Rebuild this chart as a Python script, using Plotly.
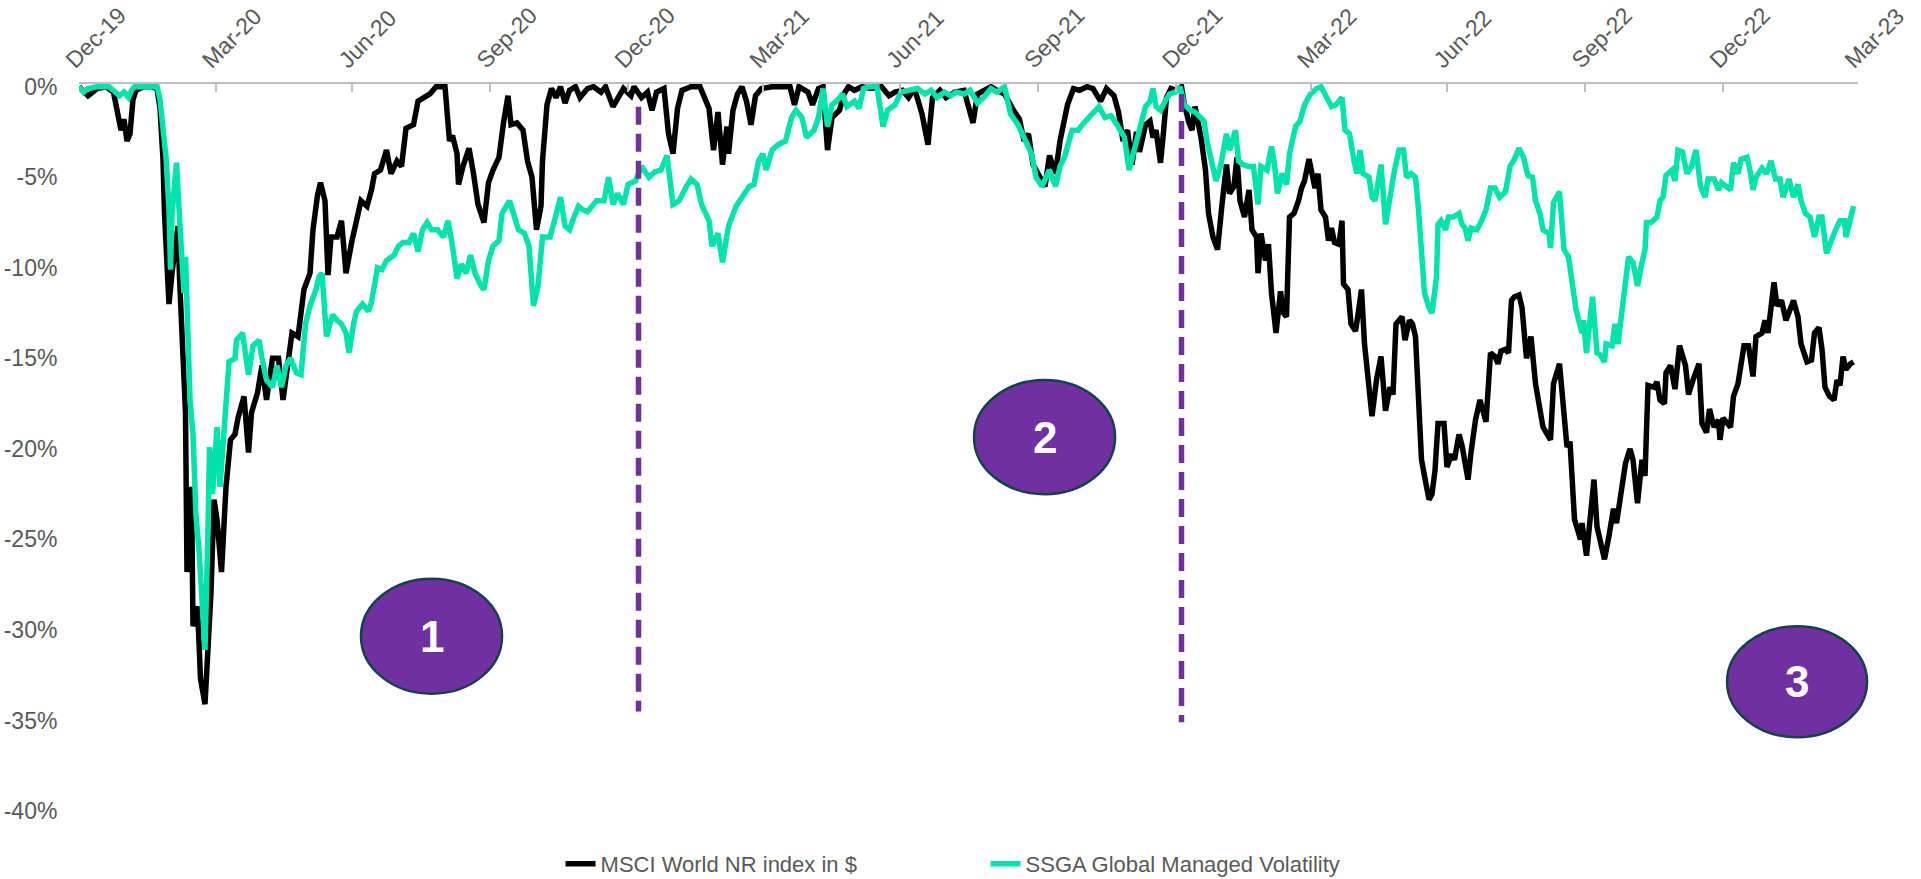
import plotly.graph_objects as go

# Drawdown from running peak (%), MSCI World NR index in USD
msci_dates = [
    "2019-12-31", "2020-01-06", "2020-01-12", "2020-01-18", "2020-01-23", "2020-01-26", "2020-01-28", "2020-01-30",
    "2020-02-01", "2020-02-03", "2020-02-05", "2020-02-07", "2020-02-12", "2020-02-17", "2020-02-21", "2020-02-23", "2020-02-25", "2020-02-26", "2020-02-29",
    "2020-03-02", "2020-03-04", "2020-03-06", "2020-03-07", "2020-03-09", "2020-03-11", "2020-03-12", "2020-03-15", "2020-03-16", "2020-03-19", "2020-03-21", "2020-03-24", "2020-03-28", "2020-03-30",
    "2020-04-01", "2020-04-04", "2020-04-07", "2020-04-10", "2020-04-13", "2020-04-15", "2020-04-19", "2020-04-22", "2020-04-24", "2020-04-28",
    "2020-05-01", "2020-05-04", "2020-05-08", "2020-05-12", "2020-05-15", "2020-05-19", "2020-05-21", "2020-05-25", "2020-05-29",
    "2020-06-02", "2020-06-04", "2020-06-07", "2020-06-09", "2020-06-12", "2020-06-14", "2020-06-16", "2020-06-20", "2020-06-23", "2020-06-26", "2020-06-30",
    "2020-07-03", "2020-07-06", "2020-07-10", "2020-07-13", "2020-07-15", "2020-07-19", "2020-07-23", "2020-07-26", "2020-07-30",
    "2020-08-02", "2020-08-05", "2020-08-10", "2020-08-13", "2020-08-18", "2020-08-21", "2020-08-25", "2020-08-31",
    "2020-09-03", "2020-09-05", "2020-09-08", "2020-09-09", "2020-09-12", "2020-09-16", "2020-09-19", "2020-09-22", "2020-09-26", "2020-09-29",
    "2020-10-02", "2020-10-06", "2020-10-09", "2020-10-12", "2020-10-14", "2020-10-18", "2020-10-22", "2020-10-25", "2020-10-28", "2020-10-31",
    "2020-11-03", "2020-11-04", "2020-11-07", "2020-11-10", "2020-11-13", "2020-11-16", "2020-11-19", "2020-11-22", "2020-11-26", "2020-11-29",
    "2020-12-04", "2020-12-08", "2020-12-13", "2020-12-16", "2020-12-21", "2020-12-24", "2020-12-28",
    "2021-01-02", "2021-01-04", "2021-01-09", "2021-01-13", "2021-01-16", "2021-01-19", "2021-01-24", "2021-01-27", "2021-01-30",
    "2021-02-02", "2021-02-05", "2021-02-11", "2021-02-17", "2021-02-20", "2021-02-23", "2021-02-26",
    "2021-03-01", "2021-03-04", "2021-03-07", "2021-03-08", "2021-03-11", "2021-03-14", "2021-03-17", "2021-03-20", "2021-03-23", "2021-03-26", "2021-03-30",
    "2021-04-06", "2021-04-18", "2021-04-21", "2021-04-24", "2021-04-30",
    "2021-05-03", "2021-05-07", "2021-05-10", "2021-05-13", "2021-05-16", "2021-05-21", "2021-05-24", "2021-05-27", "2021-05-31",
    "2021-06-05", "2021-06-11", "2021-06-18", "2021-06-23", "2021-06-27",
    "2021-07-02", "2021-07-06", "2021-07-10", "2021-07-15", "2021-07-19", "2021-07-22", "2021-07-27", "2021-07-31",
    "2021-08-06", "2021-08-12", "2021-08-18", "2021-08-21", "2021-08-25", "2021-08-30",
    "2021-09-03", "2021-09-08", "2021-09-14", "2021-09-18", "2021-09-21", "2021-09-24", "2021-09-27",
    "2021-10-02", "2021-10-05", "2021-10-08", "2021-10-12", "2021-10-15", "2021-10-20", "2021-10-24", "2021-10-28",
    "2021-11-02", "2021-11-06", "2021-11-11", "2021-11-15", "2021-11-20", "2021-11-23", "2021-11-26", "2021-11-29",
    "2021-12-02", "2021-12-05", "2021-12-07", "2021-12-11", "2021-12-14", "2021-12-16", "2021-12-18", "2021-12-21", "2021-12-23", "2021-12-25", "2021-12-28", "2021-12-31",
    "2022-01-04", "2022-01-06", "2022-01-09", "2022-01-11", "2022-01-13", "2022-01-15", "2022-01-17", "2022-01-20", "2022-01-22", "2022-01-25", "2022-01-28", "2022-01-31",
    "2022-02-03", "2022-02-05", "2022-02-08", "2022-02-10", "2022-02-12", "2022-02-15", "2022-02-18", "2022-02-20", "2022-02-23", "2022-02-24", "2022-02-26",
    "2022-03-01", "2022-03-03", "2022-03-05", "2022-03-08", "2022-03-11", "2022-03-13", "2022-03-15", "2022-03-17", "2022-03-20", "2022-03-23", "2022-03-25", "2022-03-27", "2022-03-30",
    "2022-04-01", "2022-04-03", "2022-04-05", "2022-04-07", "2022-04-10", "2022-04-12", "2022-04-14", "2022-04-16", "2022-04-19", "2022-04-21", "2022-04-22", "2022-04-25", "2022-04-27", "2022-04-30",
    "2022-05-02", "2022-05-04", "2022-05-06", "2022-05-09", "2022-05-11", "2022-05-14", "2022-05-17", "2022-05-20", "2022-05-23", "2022-05-25", "2022-05-27", "2022-05-31",
    "2022-06-02", "2022-06-05", "2022-06-07", "2022-06-09", "2022-06-11", "2022-06-13", "2022-06-15", "2022-06-18", "2022-06-20", "2022-06-22", "2022-06-24", "2022-06-28", "2022-06-30",
    "2022-07-03", "2022-07-05", "2022-07-08", "2022-07-10", "2022-07-12", "2022-07-14", "2022-07-16", "2022-07-19", "2022-07-22", "2022-07-26", "2022-07-29",
    "2022-08-01", "2022-08-03", "2022-08-05", "2022-08-08", "2022-08-10", "2022-08-12", "2022-08-14", "2022-08-17", "2022-08-19", "2022-08-22", "2022-08-25", "2022-08-28", "2022-08-31",
    "2022-09-02", "2022-09-07", "2022-09-09", "2022-09-13", "2022-09-16", "2022-09-18", "2022-09-20", "2022-09-23", "2022-09-27", "2022-09-28",
    "2022-10-01", "2022-10-03", "2022-10-06", "2022-10-08", "2022-10-11", "2022-10-13", "2022-10-16", "2022-10-19", "2022-10-21", "2022-10-24", "2022-10-27", "2022-10-30",
    "2022-11-01", "2022-11-04", "2022-11-07", "2022-11-09", "2022-11-11", "2022-11-15", "2022-11-17", "2022-11-19", "2022-11-22", "2022-11-23", "2022-11-26", "2022-11-29",
    "2022-12-02", "2022-12-06", "2022-12-08", "2022-12-11", "2022-12-15", "2022-12-17", "2022-12-20", "2022-12-22", "2022-12-25", "2022-12-28", "2022-12-29", "2022-12-31",
    "2023-01-05", "2023-01-07", "2023-01-10", "2023-01-14", "2023-01-17", "2023-01-20", "2023-01-22", "2023-01-26", "2023-01-28", "2023-01-30",
    "2023-02-03", "2023-02-05", "2023-02-08", "2023-02-11", "2023-02-16", "2023-02-19", "2023-02-21", "2023-02-25", "2023-02-28",
    "2023-03-02", "2023-03-05", "2023-03-07", "2023-03-09", "2023-03-12", "2023-03-15", "2023-03-17", "2023-03-19", "2023-03-21", "2023-03-23", "2023-03-26", "2023-03-28",
]
msci_dd = [
    0.0, -0.5, -0.1, 0.0, -0.3, -1.6, -2.4, -1.8,
    -3.0, -2.6, -0.7, -0.2, 0.0, 0.0, -0.1, -1.2, -4.0, -7.0, -12.0,
    -10.3, -9.2, -7.7, -10.5, -13.8, -18.0, -26.8, -22.1, -29.8, -28.7, -32.7, -34.1, -27.9, -22.8,
    -23.9, -26.8, -22.1, -19.5, -19.2, -18.3, -17.1, -20.2, -18.0, -16.9,
    -15.4, -17.3, -15.0, -15.0, -17.3, -14.7, -13.6, -13.8, -11.2,
    -10.3, -7.9, -6.0, -5.3, -6.3, -10.4, -8.3, -8.3, -7.4, -10.3, -8.5,
    -7.4, -6.3, -6.6, -5.7, -4.8, -4.6, -3.5, -4.8, -4.1,
    -4.4, -2.3, -2.1, -0.8, -0.6, -0.4, 0.0, 0.0,
    -3.0, -2.7, -3.7, -5.4, -4.4, -3.4, -4.8, -6.5, -7.5, -5.3,
    -4.6, -3.9, -2.0, -0.5, -2.1, -2.0, -2.4, -4.1, -5.0, -7.9,
    -6.6, -4.1, -1.0, -0.1, -0.6, 0.0, -0.9, -0.2, 0.0, -0.6,
    -0.1, 0.0, -0.3, 0.0, -1.1, -0.6, -0.1,
    -0.5, 0.0, -0.6, -0.3, -1.3, -0.3, -0.1, -2.6, -3.7,
    -1.2, -0.2, 0.0, 0.0, -0.7, -1.2, -3.5,
    -1.4, -4.3, -2.2, -3.7, -1.3, -0.4, 0.0, -0.8, -2.1, -0.5, -0.1,
    0.0, 0.0, -1.0, 0.0, -0.3,
    -1.0, -0.1, 0.0, -3.5, -1.7, -1.3, -0.4, 0.0, -0.2,
    0.0, -0.1, 0.0, -0.5, -0.3,
    -0.2, -0.6, -0.1, -1.5, -3.2, -0.6, -0.2, -0.6,
    -0.3, -0.2, -2.0, -0.4, -0.2, 0.0,
    -0.2, -0.4, -1.3, -1.8, -3.0, -2.6, -4.3,
    -5.0, -5.5, -3.8, -4.8, -3.0, -1.0, -0.1, -0.2,
    0.0, -0.1, -0.8, -0.1, -0.5, -1.4, -3.0, -2.4,
    -4.3, -2.5, -3.6, -2.1, -1.9, -2.8, -2.4, -4.2, -2.5, -0.6, -0.1, -0.2,
    0.0, -1.0, -2.0, -2.4, -1.1, -2.0, -2.8, -4.6, -7.0, -8.3, -9.0, -6.5,
    -4.3, -5.9, -5.5, -3.9, -6.3, -7.2, -5.7, -7.9, -8.3, -10.3, -8.1,
    -9.6, -8.7, -11.4, -13.6, -11.3, -12.5, -12.7, -7.2, -7.0, -6.3, -5.6, -5.2, -4.0,
    -5.0, -5.6, -4.8, -6.8, -7.2, -8.5, -7.8, -8.6, -8.7, -7.4, -10.9, -11.2, -13.1, -13.5,
    -12.4, -11.2, -14.2, -17.1, -18.2, -16.2, -14.9, -17.9, -16.6, -17.0, -13.1, -12.7,
    -14.0, -12.9, -13.1, -13.8, -18.1, -20.6, -21.5, -22.8, -22.5, -21.2, -18.6, -18.6, -21.0,
    -20.3, -20.6, -19.2, -19.8, -20.6, -21.7, -20.2, -18.4, -17.3, -18.5, -14.7,
    -14.9, -15.3, -14.6, -14.5, -14.7, -11.8, -11.6, -11.5, -12.2, -15.0, -13.8, -16.4, -18.0,
    -18.8, -19.5, -16.4, -15.3, -18.4, -19.9, -19.6, -23.9, -25.0, -24.1,
    -25.9, -24.1, -21.7, -24.3, -25.4, -26.1, -24.8, -23.3, -24.1, -22.2, -20.8, -20.0,
    -20.6, -23.0, -20.6, -21.5, -16.5, -16.6, -16.3, -17.3, -17.5, -15.8, -15.4, -16.7,
    -14.3, -15.4, -17.0, -16.2, -15.3, -18.6, -19.1, -17.8, -18.8, -18.4, -19.5, -18.3,
    -18.8, -17.1, -16.4, -14.3, -14.3, -16.0, -13.8, -13.6, -12.9, -13.6,
    -10.8, -12.1, -11.8, -12.9, -11.8, -12.7, -14.2, -15.2, -15.1,
    -13.6, -13.3, -14.5, -16.6, -17.1, -17.3, -16.2, -16.5, -14.9, -15.6, -15.3, -15.2,
]

# Drawdown from running peak (%), SSGA Global Managed Volatility
ssga_dates = [
    "2019-12-31", "2020-01-03", "2020-01-06", "2020-01-12", "2020-01-20", "2020-01-27", "2020-01-30",
    "2020-02-02", "2020-02-04", "2020-02-06", "2020-02-15", "2020-02-21", "2020-02-23", "2020-02-25", "2020-02-27", "2020-02-29",
    "2020-03-01", "2020-03-02", "2020-03-05", "2020-03-07", "2020-03-10", "2020-03-11", "2020-03-13", "2020-03-14", "2020-03-16", "2020-03-18", "2020-03-20", "2020-03-22", "2020-03-24", "2020-03-26", "2020-03-27", "2020-03-29",
    "2020-04-01", "2020-04-03", "2020-04-06", "2020-04-09", "2020-04-13", "2020-04-14", "2020-04-18", "2020-04-20", "2020-04-22", "2020-04-25", "2020-04-29",
    "2020-05-01", "2020-05-04", "2020-05-08", "2020-05-11", "2020-05-14", "2020-05-17", "2020-05-20", "2020-05-24", "2020-05-27", "2020-05-30",
    "2020-06-02", "2020-06-06", "2020-06-08", "2020-06-10", "2020-06-13", "2020-06-17", "2020-06-20", "2020-06-23", "2020-06-26", "2020-06-28",
    "2020-07-01", "2020-07-03", "2020-07-07", "2020-07-11", "2020-07-13", "2020-07-17", "2020-07-20", "2020-07-23", "2020-07-28", "2020-07-31",
    "2020-08-03", "2020-08-07", "2020-08-10", "2020-08-13", "2020-08-16", "2020-08-19", "2020-08-22", "2020-08-26", "2020-08-30",
    "2020-09-02", "2020-09-05", "2020-09-08", "2020-09-11", "2020-09-14", "2020-09-17", "2020-09-20", "2020-09-24", "2020-09-26", "2020-09-29",
    "2020-10-02", "2020-10-06", "2020-10-08", "2020-10-13", "2020-10-16", "2020-10-19", "2020-10-23", "2020-10-26", "2020-10-29",
    "2020-11-01", "2020-11-04", "2020-11-09", "2020-11-12", "2020-11-16", "2020-11-19", "2020-11-22", "2020-11-25", "2020-11-28",
    "2020-12-01", "2020-12-04", "2020-12-07", "2020-12-10", "2020-12-15", "2020-12-18", "2020-12-21", "2020-12-24", "2020-12-28", "2020-12-31",
    "2021-01-05", "2021-01-09", "2021-01-14", "2021-01-18", "2021-01-22", "2021-01-26", "2021-01-30",
    "2021-02-03", "2021-02-08", "2021-02-11", "2021-02-15", "2021-02-18", "2021-02-23", "2021-02-25",
    "2021-03-01", "2021-03-04", "2021-03-08", "2021-03-13", "2021-03-17", "2021-03-22", "2021-03-25", "2021-03-28", "2021-03-31",
    "2021-04-02", "2021-04-06", "2021-04-10", "2021-04-15", "2021-04-19", "2021-04-22", "2021-04-26", "2021-04-29",
    "2021-05-04", "2021-05-07", "2021-05-10", "2021-05-13", "2021-05-16", "2021-05-19", "2021-05-23", "2021-05-26", "2021-05-31",
    "2021-06-03", "2021-06-06", "2021-06-10", "2021-06-15", "2021-06-19", "2021-06-22", "2021-06-27",
    "2021-07-01", "2021-07-06", "2021-07-12", "2021-07-17", "2021-07-21", "2021-07-25", "2021-07-30",
    "2021-08-03", "2021-08-07", "2021-08-12", "2021-08-16", "2021-08-21", "2021-08-25", "2021-08-30",
    "2021-09-03", "2021-09-08", "2021-09-12", "2021-09-17", "2021-09-21", "2021-09-26", "2021-09-29",
    "2021-10-03", "2021-10-08", "2021-10-12", "2021-10-15", "2021-10-18", "2021-10-23", "2021-10-27",
    "2021-11-01", "2021-11-05", "2021-11-10", "2021-11-14", "2021-11-18", "2021-11-22", "2021-11-27", "2021-11-30",
    "2021-12-03", "2021-12-07", "2021-12-11", "2021-12-14", "2021-12-16", "2021-12-18", "2021-12-21", "2021-12-24", "2021-12-27", "2021-12-31",
    "2022-01-03", "2022-01-06", "2022-01-10", "2022-01-13", "2022-01-16", "2022-01-19", "2022-01-21", "2022-01-24", "2022-01-27", "2022-01-30",
    "2022-02-01", "2022-02-03", "2022-02-05", "2022-02-09", "2022-02-11", "2022-02-14", "2022-02-18", "2022-02-21", "2022-02-24", "2022-02-26",
    "2022-03-02", "2022-03-05", "2022-03-07", "2022-03-09", "2022-03-12", "2022-03-15", "2022-03-17", "2022-03-21", "2022-03-24", "2022-03-27", "2022-03-31",
    "2022-04-04", "2022-04-07", "2022-04-11", "2022-04-14", "2022-04-17", "2022-04-21", "2022-04-23", "2022-04-26", "2022-04-29",
    "2022-05-01", "2022-05-03", "2022-05-05", "2022-05-09", "2022-05-11", "2022-05-13", "2022-05-15", "2022-05-17", "2022-05-20", "2022-05-22", "2022-05-24", "2022-05-26", "2022-05-29",
    "2022-06-01", "2022-06-03", "2022-06-06", "2022-06-09", "2022-06-11", "2022-06-13", "2022-06-15", "2022-06-18", "2022-06-20", "2022-06-23", "2022-06-24", "2022-06-26", "2022-06-29",
    "2022-07-01", "2022-07-04", "2022-07-08", "2022-07-10", "2022-07-12", "2022-07-14", "2022-07-16", "2022-07-20", "2022-07-23", "2022-07-26", "2022-07-29",
    "2022-08-01", "2022-08-04", "2022-08-08", "2022-08-11", "2022-08-14", "2022-08-17", "2022-08-20", "2022-08-23", "2022-08-26", "2022-08-28", "2022-08-31",
    "2022-09-02", "2022-09-06", "2022-09-07", "2022-09-09", "2022-09-13", "2022-09-16", "2022-09-19", "2022-09-21", "2022-09-24", "2022-09-28", "2022-09-29",
    "2022-10-01", "2022-10-03", "2022-10-05", "2022-10-08", "2022-10-10", "2022-10-13", "2022-10-14", "2022-10-18", "2022-10-20", "2022-10-22", "2022-10-24", "2022-10-27", "2022-10-29",
    "2022-11-01", "2022-11-04", "2022-11-07", "2022-11-09", "2022-11-10", "2022-11-13", "2022-11-17", "2022-11-19", "2022-11-21", "2022-11-23", "2022-11-27", "2022-11-29",
    "2022-12-01", "2022-12-04", "2022-12-07", "2022-12-10", "2022-12-13", "2022-12-16", "2022-12-19", "2022-12-21", "2022-12-25", "2022-12-28", "2022-12-30",
    "2023-01-02", "2023-01-05", "2023-01-07", "2023-01-10", "2023-01-12", "2023-01-16", "2023-01-18", "2023-01-20", "2023-01-22", "2023-01-26", "2023-01-29",
    "2023-02-01", "2023-02-04", "2023-02-07", "2023-02-09", "2023-02-13", "2023-02-16", "2023-02-19", "2023-02-21", "2023-02-24", "2023-02-27",
    "2023-03-02", "2023-03-05", "2023-03-07", "2023-03-10", "2023-03-13", "2023-03-16", "2023-03-19", "2023-03-22", "2023-03-23", "2023-03-26", "2023-03-28",
]
ssga_dd = [
    0.0, -0.3, -0.1, 0.0, 0.0, -0.5, -0.3,
    -0.6, -0.2, 0.0, 0.0, 0.0, -0.7, -2.0, -3.9, -6.8,
    -10.1, -7.0, -4.2, -7.2, -11.4, -9.4, -15.5, -17.3, -19.2, -23.7, -25.6, -29.1, -31.1, -24.4, -19.9, -22.5,
    -18.8, -22.1, -18.3, -15.2, -15.0, -14.0, -13.6, -14.7, -15.9, -14.3, -14.0,
    -15.0, -16.2, -16.6, -15.4, -16.6, -15.4, -15.0, -15.8, -15.9, -13.1,
    -12.1, -11.2, -10.5, -10.3, -13.8, -12.6, -12.9, -13.1, -13.6, -14.7,
    -13.1, -12.4, -12.0, -12.4, -11.9, -10.0, -10.1, -9.6, -9.3, -8.8,
    -8.6, -8.6, -8.1, -9.1, -7.9, -7.5, -7.9, -7.9, -8.3,
    -7.4, -8.8, -10.6, -9.8, -10.3, -9.3, -10.3, -11.0, -11.2, -9.6,
    -8.8, -8.5, -7.0, -6.3, -7.2, -7.9, -8.1, -8.8, -12.1,
    -11.0, -8.3, -8.3, -7.4, -6.1, -7.7, -7.9, -7.2, -6.6,
    -6.8, -6.9, -6.6, -6.3, -6.3, -5.0, -6.5, -5.9, -6.5, -5.4,
    -5.2, -4.4, -5.0, -4.7, -4.6, -3.8, -6.5,
    -6.3, -5.5, -5.1, -5.4, -6.5, -7.4, -8.8,
    -8.1, -9.7, -7.7, -6.6, -6.1, -5.5, -5.4, -4.1, -3.7,
    -4.6, -3.5, -3.2, -3.0, -1.7, -1.3, -1.7, -2.8,
    -2.4, -1.7, -0.1, -2.2, -1.0, -0.8, -0.4, -1.1, -0.8,
    -1.2, -0.1, 0.0, 0.0, -2.2, -1.3, -1.0,
    -0.3, -0.2, -0.1, -0.4, -0.2, -0.6, -0.3,
    -0.5, -0.3, -0.4, -0.2, -0.9, -0.6, -0.1,
    -0.3, 0.0, -1.5, -2.1, -2.8, -3.7, -5.0,
    -5.5, -4.6, -5.5, -4.4, -3.9, -2.4, -2.4,
    -1.9, -1.5, -1.1, -1.7, -1.6, -2.1, -2.8, -4.6,
    -3.7, -2.4, -1.1, -0.8, -0.1, -1.1, -1.3, -0.8, -0.4, -0.3,
    0.0, -1.0, -1.3, -1.4, -1.7, -1.9, -3.0, -4.1, -5.2, -4.4,
    -3.5, -2.6, -3.5, -2.4, -4.1, -4.3, -4.4, -4.4, -6.5, -4.4,
    -4.6, -3.3, -4.3, -5.9, -4.8, -5.4, -3.7, -2.2, -1.9, -1.0, -0.4,
    -0.1, 0.0, -0.6, -1.1, -1.0, -0.6, -2.4, -2.6, -4.1,
    -4.8, -3.5, -4.8, -5.0, -6.1, -6.3, -5.4, -4.3, -7.6, -6.3, -5.6, -4.6, -3.5,
    -3.5, -5.0, -4.8, -5.0, -6.8, -9.2, -11.4, -12.2, -12.5, -10.5, -7.6, -7.4, -7.9,
    -7.2, -7.2, -7.0, -7.6, -7.8, -8.5, -7.8, -7.9, -7.4, -6.8, -5.6,
    -5.6, -6.1, -5.8, -4.4, -4.0, -3.4, -3.9, -4.9, -5.0, -6.3, -7.0,
    -7.9, -8.1, -8.9, -6.4, -5.8, -9.0, -9.4, -10.7, -12.3, -13.6, -12.9,
    -14.7, -13.2, -11.6, -14.7, -14.8, -15.2, -14.2, -14.3, -13.1, -14.2, -12.9, -10.8, -9.4,
    -9.7, -11.0, -9.7, -9.0, -7.5, -7.5, -7.2, -6.3, -6.1, -4.9, -4.6, -5.2,
    -3.5, -3.6, -4.8, -4.4, -3.5, -5.5, -6.1, -5.1, -5.1, -5.7, -5.3,
    -5.5, -5.7, -4.2, -4.8, -4.0, -3.9, -4.6, -5.7, -5.0, -4.5, -4.8,
    -4.1, -5.1, -5.1, -6.1, -5.1, -6.1, -5.4, -6.3, -7.0, -7.2,
    -8.3, -7.2, -7.2, -9.2, -8.5, -7.9, -7.4, -7.4, -8.3, -7.2, -6.6,
]

# Axis ticks
x_tick_dates = ["2019-12-31", "2020-03-31", "2020-06-30", "2020-09-30", "2020-12-31", "2021-03-31", "2021-06-30",
                "2021-09-30", "2021-12-31", "2022-03-31", "2022-06-30", "2022-09-30", "2022-12-31", "2023-03-31"]
x_tick_labels = ["Dec-19", "Mar-20", "Jun-20", "Sep-20", "Dec-20", "Mar-21", "Jun-21",
                 "Sep-21", "Dec-21", "Mar-22", "Jun-22", "Sep-22", "Dec-22", "Mar-23"]
y_tick_values = [0, -5, -10, -15, -20, -25, -30, -35, -40]
y_tick_labels = ["0%", "-5%", "-10%", "-15%", "-20%", "-25%", "-30%", "-35%", "-40%"]

# Regime boundaries (dashed markers): date, top and bottom in %
regime_breaks = [("2021-01-07", -1.1, -34.5), ("2022-01-04", -0.4, -35.1)]

# Numbered regime badges: label, ellipse box in paper coordinates (x0, x1, y0, y1)
badges = [
    ("1", 0.1585, 0.2378, 0.1613, 0.3195),
    ("2", 0.5031, 0.5824, 0.4358, 0.5927),
    ("3", 0.9264, 1.0051, 0.1014, 0.2542),
]

FONT = "Liberation Sans, Arial, sans-serif"
GREY_TEXT = "#595959"
AXIS_GREY = "#BFBFBF"
PURPLE = "#7030A0"

fig = go.Figure()
fig.add_trace(go.Scatter(
    x=msci_dates, y=msci_dd, mode="lines", name="MSCI World NR index in $",
    line=dict(color="#000000", width=5.5),
))
fig.add_trace(go.Scatter(
    x=ssga_dates, y=ssga_dd, mode="lines", name="SSGA Global Managed Volatility",
    line=dict(color="#00E3AA", width=5.5),
))

shapes = []
for d, top, bottom in regime_breaks:
    shapes.append(dict(type="line", xref="x", yref="y", x0=d, x1=d, y0=top, y1=bottom,
                       line=dict(color=PURPLE, width=5.5, dash="18px,9px"), layer="above"))
annotations = []
for label, x0, x1, y0, y1 in badges:
    shapes.append(dict(type="circle", xref="paper", yref="paper", x0=x0, x1=x1, y0=y0, y1=y1,
                       fillcolor=PURPLE, line=dict(color="#17404D", width=2.5), layer="above"))
    annotations.append(dict(xref="paper", yref="paper", x=(x0 + x1) / 2, y=(y0 + y1) / 2,
                            text="<b>%s</b>" % label, showarrow=False,
                            font=dict(family=FONT, size=44, color="#FFFFFF"),
                            xanchor="center", yanchor="middle"))

fig.update_layout(
    width=1921, height=879, autosize=False,
    margin=dict(l=79, r=63, t=84, b=68, pad=0, autoexpand=False),
    paper_bgcolor="#FFFFFF", plot_bgcolor="#FFFFFF",
    font=dict(family=FONT, color=GREY_TEXT),
    shapes=shapes, annotations=annotations,
    showlegend=True,
    legend=dict(orientation="h", x=0.5096, xanchor="center", y=-0.073, yanchor="middle",
                font=dict(family=FONT, size=22, color=GREY_TEXT), itemwidth=30,
                entrywidth=380, entrywidthmode="pixels",
                bgcolor="rgba(0,0,0,0)"),
    xaxis=dict(
        type="date", range=["2019-12-31", "2023-03-31"], side="top",
        tickvals=x_tick_dates, ticktext=x_tick_labels, tickangle=-45,
        ticks="inside", ticklen=8, tickwidth=2, tickcolor=AXIS_GREY,
        ticklabelshift=-12,
        showline=True, linecolor=AXIS_GREY, linewidth=2,
        showgrid=False, zeroline=False,
        tickfont=dict(family=FONT, size=23, color=GREY_TEXT),
    ),
    yaxis=dict(
        range=[-40, 0.15], tickvals=y_tick_values, ticktext=y_tick_labels,
        showgrid=False, zeroline=False, showline=False,
        ticks="outside", ticklen=16, tickcolor="rgba(0,0,0,0)",
        tickfont=dict(family=FONT, size=23, color=GREY_TEXT),
    ),
)

fig.write_html("out.html")
